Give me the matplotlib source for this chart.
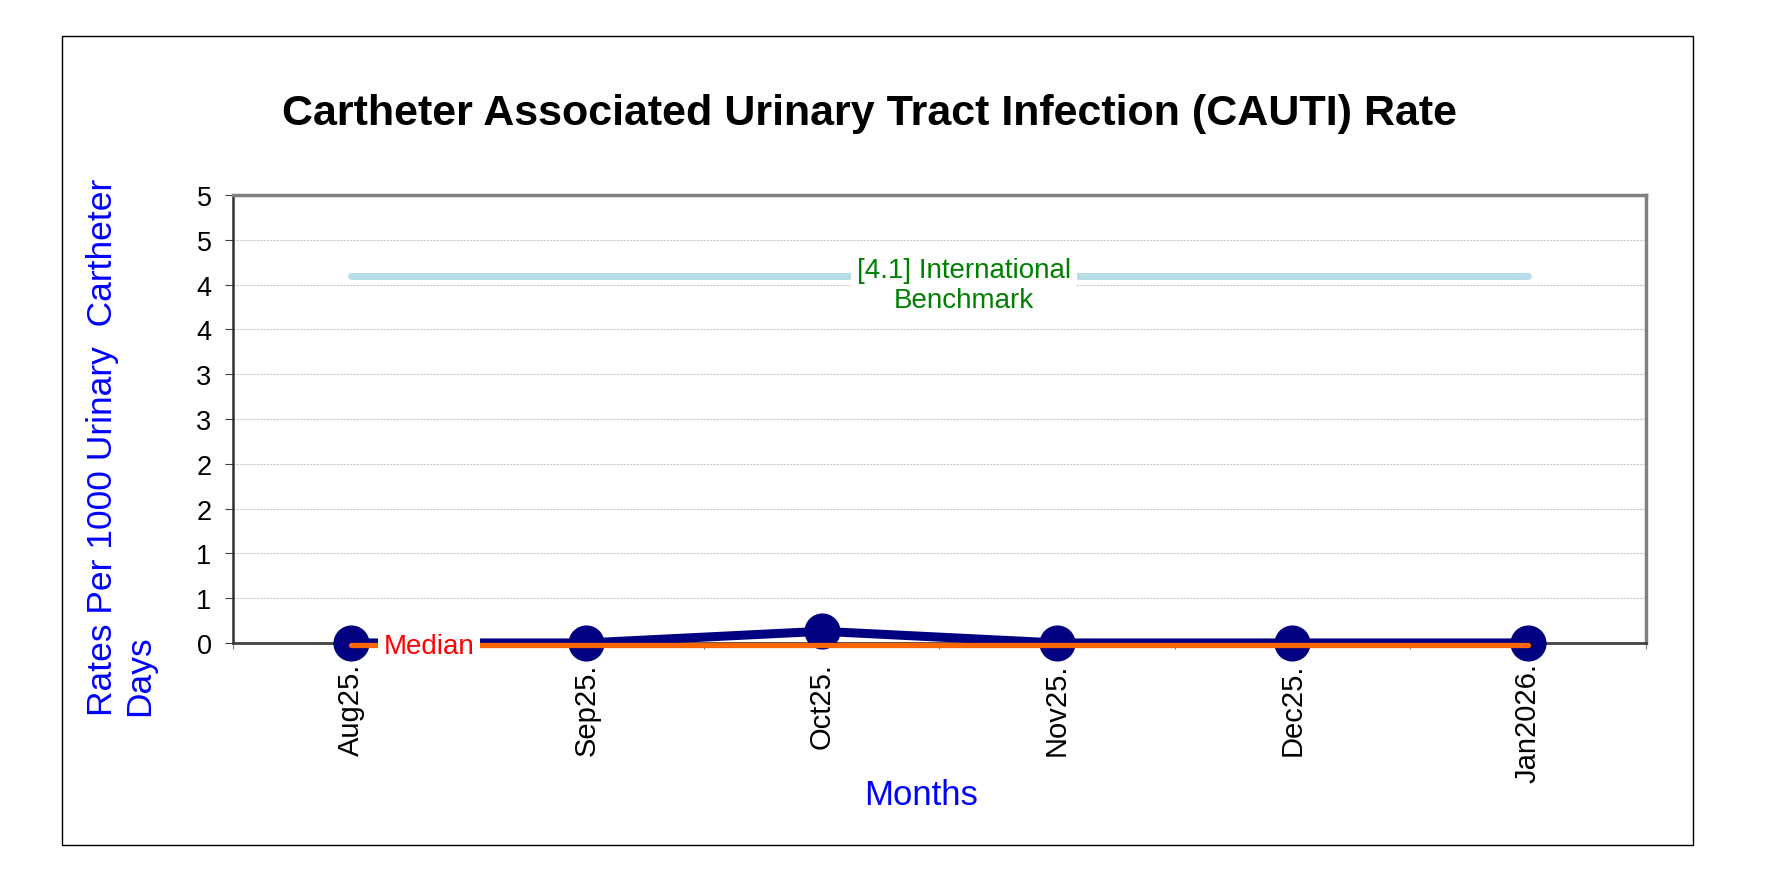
import matplotlib
matplotlib.use("Agg")
import matplotlib.pyplot as plt
import matplotlib.transforms as mtransforms
from matplotlib.patches import Rectangle
from matplotlib.ticker import FuncFormatter, MultipleLocator

months = ["Aug25.", "Sep25.", "Oct25.", "Nov25.", "Dec25.", "Jan2026."]
rates = [0, 0, 0.13, 0, 0, 0]
median = [0, 0, 0, 0, 0, 0]
benchmark = [4.1, 4.1, 4.1, 4.1, 4.1, 4.1]

plt.rcParams["font.family"] = ["Liberation Sans", "DejaVu Sans"]

fig = plt.figure(figsize=(17.66, 8.95), dpi=100)
fig.patches.append(Rectangle((0.0351, 0.0553), 0.9234, 0.9032, transform=fig.transFigure,
                             fill=False, edgecolor="black", linewidth=1.0))

ax = fig.add_axes([0.132, 0.2805, 0.7998, 0.5006])
x = [i + 0.5 for i in range(len(months))]

ax.plot(x, benchmark, color="#b7dde8", linewidth=5, solid_capstyle="round", zorder=2)
ax.plot(x, rates, color="#000080", linewidth=6.5, marker="o", markersize=25, zorder=3,
        clip_on=False)
# median series sits a hair below the rate line, as in the source chart
shift = mtransforms.ScaledTranslation(0, -1.5 / 72, fig.dpi_scale_trans)
ax.plot(x, median, color="#ff6600", linewidth=3.8, solid_capstyle="round", zorder=4,
        clip_on=False, transform=ax.transData + shift)

ax.text(3.105, 4.0, "[4.1] International\nBenchmark", color="#008000", fontsize=20,
        ha="center", va="center", linespacing=1.2, zorder=5,
        bbox=dict(facecolor="white", edgecolor="none", pad=4))
ax.text(0.833, -0.03, "Median", color="#ff0000", fontsize=20, ha="center", va="center",
        zorder=5, clip_on=False, bbox=dict(facecolor="white", edgecolor="none", pad=4))

ax.set_xlim(0, len(months))
ax.set_ylim(0, 5)
ax.yaxis.set_major_locator(MultipleLocator(0.5))
ax.yaxis.set_major_formatter(FuncFormatter(lambda v, p: f"{int(v + 0.5)}"))
ax.set_xticks(range(len(months) + 1))
ax.set_xticklabels([])
ax.set_xticks(x, minor=True)
ax.set_xticklabels(months, minor=True, rotation=90, fontsize=21,
                   family=["Liberation Sans Narrow", "Liberation Sans"])
ax.tick_params(axis="x", which="minor", length=0, pad=14)
ax.tick_params(axis="x", which="major", length=4, direction="out", color="#808080")
ax.tick_params(axis="y", labelsize=19.5, length=5.5, color="#404040", pad=10)

ax.grid(axis="y", color="#c8c8c8", linestyle=(0, (2, 1)), linewidth=0.8, zorder=0)
ax.set_axisbelow(True)

for side in ["top", "right"]:
    ax.spines[side].set_color("#808080")
    ax.spines[side].set_linewidth(2.5)
ax.spines["left"].set_color("#303030")
ax.spines["left"].set_linewidth(1.8)
ax.spines["bottom"].set_color("#404040")
ax.spines["bottom"].set_linewidth(2)

fig.text(0.0685, 0.5006, "Rates Per 1000 Urinary  Cartheter\nDays", color="#0000ff",
         fontsize=25.5, rotation=90, ha="center", va="center", multialignment="left",
         linespacing=1.15)
fig.text(0.5217, 0.111, "Months", color="#0000ff", fontsize=25, ha="center", va="center")

fig.text(0.4923, 0.873, "Cartheter Associated Urinary Tract Infection (CAUTI) Rate",
         ha="center", va="center", fontsize=31, fontweight="bold")

fig.savefig("out.png", dpi=100)
